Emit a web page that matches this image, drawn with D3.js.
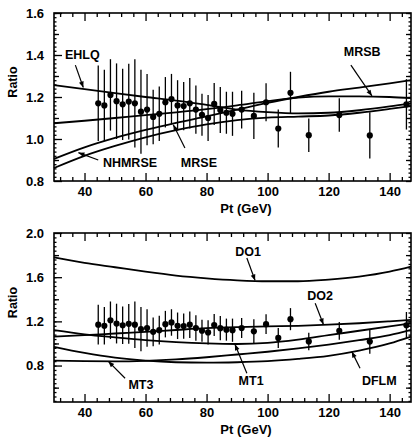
<!DOCTYPE html>
<html>
<head>
<meta charset="utf-8">
<script src="https://cdn.jsdelivr.net/npm/d3@7"></script>
<style>
  body { margin: 0; background: #fff; }
  text { font-family: "Liberation Sans", Arial, sans-serif; font-weight: bold; fill: #000; }
</style>
</head>
<body>
<svg id="chart" width="416" height="442"></svg>
<script>
// measured ratio points (same in both panels)
const pt    = [44.5, 46.5, 48.5, 50.5, 52.5, 54.5, 56.5, 58.5, 60.5, 62.5, 64.5, 66.5, 68.5, 70.5, 72.5, 74.5,
               76.5, 78.5, 80.5, 82.5, 84.5, 86.5, 88.5, 91.5, 95.5, 99.5, 103.5, 107.5, 113.5, 123.5, 133.5, 145.5];
const ratio = [1.17, 1.16, 1.21, 1.18, 1.165, 1.178, 1.17, 1.13, 1.14, 1.105, 1.12, 1.175, 1.19, 1.16, 1.157, 1.17,
               1.14, 1.115, 1.10, 1.167, 1.138, 1.125, 1.12, 1.14, 1.11, 1.175, 1.05, 1.22, 1.018, 1.114, 1.017, 1.165];
const err   = [0.18, 0.17, 0.17, 0.18, 0.17, 0.18, 0.21, 0.2, 0.17, 0.13, 0.13, 0.12, 0.12, 0.12, 0.115, 0.12,
               0.115, 0.1, 0.11, 0.1, 0.11, 0.1, 0.105, 0.09, 0.11, 0.09, 0.09, 0.1, 0.08, 0.08, 0.11, 0.12];

// theory curves, sampled at curvePt
const curvePt = [30, 40, 50, 60, 70, 80, 90, 100, 110, 120, 130, 140, 147];
const ehlq   = [1.257, 1.237, 1.218, 1.200, 1.183, 1.162, 1.140, 1.128, 1.122, 1.125, 1.137, 1.155, 1.170];
const mrsb   = [1.075, 1.087, 1.100, 1.114, 1.127, 1.142, 1.160, 1.180, 1.197, 1.203, 1.203, 1.200, 1.195];
const mrse   = [0.905, 0.960, 1.005, 1.043, 1.077, 1.108, 1.140, 1.172, 1.200, 1.225, 1.245, 1.265, 1.280];
const nhmrse = [0.862, 0.920, 0.967, 1.008, 1.042, 1.070, 1.090, 1.102, 1.107, 1.112, 1.125, 1.143, 1.157];

const do1  = [1.780, 1.730, 1.690, 1.650, 1.615, 1.590, 1.572, 1.563, 1.563, 1.578, 1.605, 1.650, 1.695];
const do2  = [1.062, 1.075, 1.090, 1.105, 1.122, 1.138, 1.148, 1.155, 1.160, 1.170, 1.183, 1.200, 1.213];
const mt1  = [1.120, 1.083, 1.055, 1.030, 1.012, 1.000, 0.995, 1.005, 1.035, 1.075, 1.115, 1.155, 1.183];
const mt3  = [0.845, 0.840, 0.838, 0.843, 0.855, 0.875, 0.900, 0.925, 0.955, 0.990, 1.030, 1.075, 1.122];
const dflm = [0.970, 0.915, 0.872, 0.845, 0.830, 0.826, 0.830, 0.840, 0.860, 0.888, 0.935, 1.000, 1.062];

const xTicks = [40, 60, 80, 100, 120, 140];
const yTicksTop = [0.8, 1.0, 1.2, 1.4, 1.6];
const yTicksBottom = [0.8, 1.2, 1.6, 2.0];

// labels: [text, text pt, text value, arrow start pt, value, arrow tip pt, value]
const labelsTop = [
  ["EHLQ",   39.3, 1.400, 37.0, 1.352, 39.6, 1.245],
  ["MRSB",  131.0, 1.414, 127.3, 1.352, 134.2, 1.205],
  ["MRSE",   77.5, 0.886, 72.9, 0.957, 69.1, 1.068],
  ["NHMRSE", 54.9, 0.886, 44.5, 0.900, 38.0, 0.935]
];
const labelsBottom = [
  ["DO1",  93.6, 1.828, 93.2, 1.774, 95.9, 1.570],
  ["DO2", 117.2, 1.430, 115.6, 1.364, 118.3, 1.172],
  ["MT1",  94.6, 0.660, 93.2, 0.730, 89.3, 0.992],
  ["DFLM",136.6, 0.660, 130.3, 0.776, 127.6, 0.926],
  ["MT3",  58.5, 0.624, 53.3, 0.685, 47.8, 0.838]
];

const svg = d3.select("#chart");
const left = 54, right = 411;
const x = d3.scaleLinear().domain([30, 147]).range([left, right]);
const xMinor = d3.range(32, 147, 4).filter(v => !xTicks.includes(v));

svg.append("defs").append("marker")
    .attr("id", "arrowhead")
    .attr("viewBox", "0 -5 10 10")
    .attr("refX", 10)
    .attr("refY", 0)
    .attr("orient", "auto")
    .attr("markerUnits", "userSpaceOnUse")
    .attr("markerWidth", 7)
    .attr("markerHeight", 6)
    .append("path")
    .attr("d", "M0,-4L10,0L0,4Z")
    .attr("fill", "#000");

function styleAxis(g) {
    g.select(".domain").remove();
    g.selectAll("line").attr("stroke", "#000").attr("stroke-width", 1.3);
    g.attr("font-size", 13).attr("font-family", null);
}

function panel({ top, bottom, yDomain, yTicks, yMid, ySmall, curves, labels }) {
    const y = d3.scaleLinear().domain(yDomain).range([bottom, top]);
    const g = svg.append("g");

    // tick marks, pointing into the frame on all four sides
    g.append("g").attr("transform", `translate(0,${bottom})`)
        .call(d3.axisBottom(x).tickValues(xTicks).tickSize(-8).tickPadding(6).tickFormat(d3.format("d")))
        .call(styleAxis);
    g.append("g").attr("transform", `translate(0,${bottom})`)
        .call(d3.axisBottom(x).tickValues(xMinor).tickSize(-4).tickFormat(""))
        .call(styleAxis);
    g.append("g").attr("transform", `translate(0,${top})`)
        .call(d3.axisTop(x).tickValues(xTicks).tickSize(-8).tickFormat(""))
        .call(styleAxis);
    g.append("g").attr("transform", `translate(0,${top})`)
        .call(d3.axisTop(x).tickValues(xMinor).tickSize(-4).tickFormat(""))
        .call(styleAxis);

    g.append("g").attr("transform", `translate(${left},0)`)
        .call(d3.axisLeft(y).tickValues(yTicks).tickSize(-8).tickPadding(10).tickFormat(d3.format(".1f")))
        .call(styleAxis);
    g.append("g").attr("transform", `translate(${left},0)`)
        .call(d3.axisLeft(y).tickValues(yMid).tickSize(-5).tickFormat(""))
        .call(styleAxis);
    g.append("g").attr("transform", `translate(${left},0)`)
        .call(d3.axisLeft(y).tickValues(ySmall).tickSize(-2.5).tickFormat(""))
        .call(styleAxis);
    g.append("g").attr("transform", `translate(${right},0)`)
        .call(d3.axisRight(y).tickValues(yTicks.concat(yMid)).tickSize(-5).tickFormat(""))
        .call(styleAxis);
    g.append("g").attr("transform", `translate(${right},0)`)
        .call(d3.axisRight(y).tickValues(ySmall).tickSize(-2.5).tickFormat(""))
        .call(styleAxis);

    g.append("rect")
        .attr("x", left).attr("y", top)
        .attr("width", right - left).attr("height", bottom - top)
        .attr("fill", "none").attr("stroke", "#000").attr("stroke-width", 1.6);

    // axis titles
    g.append("text")
        .attr("transform", `translate(13,${(top + bottom) / 2 - 15}) rotate(-90)`)
        .attr("text-anchor", "middle")
        .attr("dominant-baseline", "central")
        .attr("font-size", 12.5)
        .text("Ratio");
    g.append("text")
        .attr("x", 246).attr("y", bottom + 27)
        .attr("text-anchor", "middle")
        .attr("dominant-baseline", "central")
        .attr("font-size", 13)
        .text("Pt (GeV)");

    // theory curves
    const line = d3.line()
        .x((d, i) => x(curvePt[i]))
        .y(d => y(d))
        .curve(d3.curveMonotoneX);
    g.append("g")
        .attr("fill", "none")
        .attr("stroke", "#000")
        .attr("stroke-width", 1.8)
        .selectAll("path")
        .data(curves)
        .join("path")
        .attr("d", line);

    // error bars and points
    g.append("g")
        .attr("stroke", "#000")
        .attr("stroke-width", 1.3)
        .selectAll("line")
        .data(pt)
        .join("line")
        .attr("x1", d => x(d)).attr("x2", d => x(d))
        .attr("y1", (d, i) => y(ratio[i] - err[i]))
        .attr("y2", (d, i) => y(ratio[i] + err[i]));
    g.append("g")
        .selectAll("circle")
        .data(pt)
        .join("circle")
        .attr("cx", d => x(d))
        .attr("cy", (d, i) => y(ratio[i]))
        .attr("r", 3.1)
        .attr("fill", "#000");

    // curve labels with arrows
    g.append("g")
        .attr("stroke", "#000")
        .attr("stroke-width", 1.2)
        .selectAll("line")
        .data(labels)
        .join("line")
        .attr("x1", d => x(d[3])).attr("y1", d => y(d[4]))
        .attr("x2", d => x(d[5])).attr("y2", d => y(d[6]))
        .attr("marker-end", "url(#arrowhead)");
    g.append("g")
        .selectAll("text")
        .data(labels)
        .join("text")
        .attr("x", d => x(d[1])).attr("y", d => y(d[2]))
        .attr("text-anchor", "middle")
        .attr("dominant-baseline", "central")
        .attr("font-size", 12.5)
        .text(d => d[0]);
}

panel({
    top: 13, bottom: 181,
    yDomain: [0.8, 1.6],
    yTicks: yTicksTop,
    yMid: d3.range(0.9, 1.6, 0.2),
    ySmall: d3.range(0.82, 1.6, 0.02),
    curves: [ehlq, mrsb, mrse, nhmrse],
    labels: labelsTop
});

panel({
    top: 233, bottom: 402,
    yDomain: [0.47, 2.0],
    yTicks: yTicksBottom,
    yMid: d3.range(0.6, 2.0, 0.4),
    ySmall: d3.range(0.48, 2.0, 0.04),
    curves: [do1, do2, mt1, mt3, dflm],
    labels: labelsBottom
});
</script>
</body>
</html>
